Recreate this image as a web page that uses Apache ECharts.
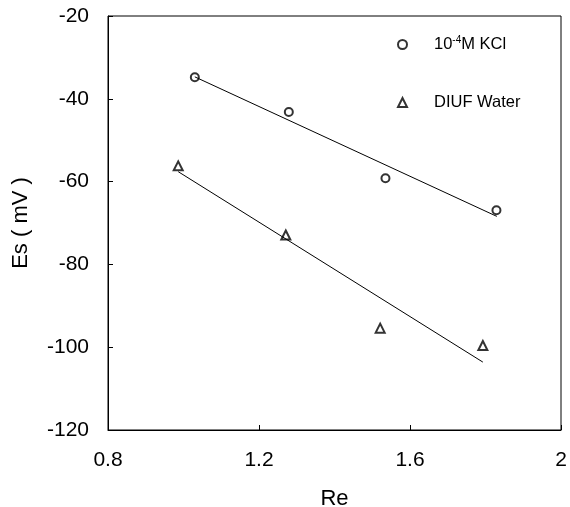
<!DOCTYPE html>
<html>
<head>
<meta charset="utf-8">
<script src="https://cdn.jsdelivr.net/npm/echarts@6/dist/echarts.min.js"></script>
<style>html,body{margin:0;padding:0;background:#fff}#c{width:570px;height:507px}</style>
</head>
<body>
<div id="c"></div>
<script>
const kclRe = [1.03, 1.279, 1.535, 1.829];
const kclEs = [-34.8, -43.2, -59.2, -66.9];
const waterRe = [0.986, 1.271, 1.521, 1.793];
const waterEs = [-56.2, -72.9, -95.4, -99.6];
const kclFitRe = [1.03, 1.83];
const kclFitEs = [-34.7, -68.4];
const waterFitRe = [0.986, 1.793];
const waterFitEs = [-57.6, -103.6];
const xTicks = [0.8, 1.2, 1.6, 2];
const yTicks = [-120, -100, -80, -60, -40, -20];

const pairs = (xs, ys) => xs.map((x, i) => [x, ys[i]]);
const font = 'Liberation Sans, Arial, Helvetica, sans-serif';

const chart = echarts.init(document.getElementById('c'), null, {renderer: 'canvas'});
chart.setOption({
  animation: false,
  backgroundColor: '#fff',
  grid: {left: 108, top: 16, right: 9, bottom: 77, show: true, borderColor: '#000', borderWidth: 1,
    containLabel: false, outerBoundsMode: 'none'},
  legend: {
    data: ['kcl', 'water'],
    orient: 'vertical',
    left: 397, top: 35, padding: 0,
    itemGap: 41,
    itemWidth: 9, itemHeight: 9,
    formatter: function (n) { return n === 'kcl' ? '10{sup|-4}M KCl' : 'DIUF Water'; },
    textStyle: {
      fontFamily: font, fontSize: 16.5, color: '#000', padding: [0, 0, 0, 22],
      rich: { sup: {fontFamily: font, fontSize: 10, color: '#000', padding: [0, 0, 9, 0]} }
    }
  },
  xAxis: {
    type: 'value', min: 0.8, max: 2, interval: 0.4,
    name: 'Re', nameLocation: 'middle', nameGap: 58,
    nameTextStyle: {fontFamily: font, fontSize: 22, color: '#000'},
    axisLine: {show: true, lineStyle: {color: '#000', width: 1}},
    axisTick: {show: true, inside: true, length: 5, lineStyle: {color: '#000'}},
    axisLabel: {fontFamily: font, fontSize: 21, color: '#000', margin: 20,
      formatter: v => xTicks.includes(Math.round(v * 10) / 10) ? String(Math.round(v * 10) / 10) : ''},
    splitLine: {show: false}
  },
  yAxis: {
    type: 'value', min: -120, max: -20, interval: 20,
    name: 'Es ( mV )', nameLocation: 'middle', nameGap: 76, nameRotate: 90,
    nameTextStyle: {fontFamily: font, fontSize: 22, color: '#000'},
    axisLine: {show: true, lineStyle: {color: '#000', width: 1}},
    axisTick: {show: true, inside: true, length: 5, lineStyle: {color: '#000'}},
    axisLabel: {fontFamily: font, fontSize: 21, color: '#000', margin: 19,
      formatter: v => yTicks.includes(v) ? String(v) : ''},
    splitLine: {show: false}
  },
  series: [
    {name: 'kclFit', type: 'line', data: pairs(kclFitRe, kclFitEs), symbol: 'none', silent: true,
      lineStyle: {color: '#000', width: 1}},
    {name: 'waterFit', type: 'line', data: pairs(waterFitRe, waterFitEs), symbol: 'none', silent: true,
      lineStyle: {color: '#000', width: 1}},
    {name: 'kcl', type: 'scatter', data: pairs(kclRe, kclEs), symbol: 'circle', symbolSize: 8,
      itemStyle: {color: '#fff', borderColor: '#000', borderWidth: 2}},
    {name: 'water', type: 'scatter', data: pairs(waterRe, waterEs), symbol: 'triangle', symbolSize: 9,
      itemStyle: {color: '#fff', borderColor: '#000', borderWidth: 2}}
  ]
});
</script>
</body>
</html>
